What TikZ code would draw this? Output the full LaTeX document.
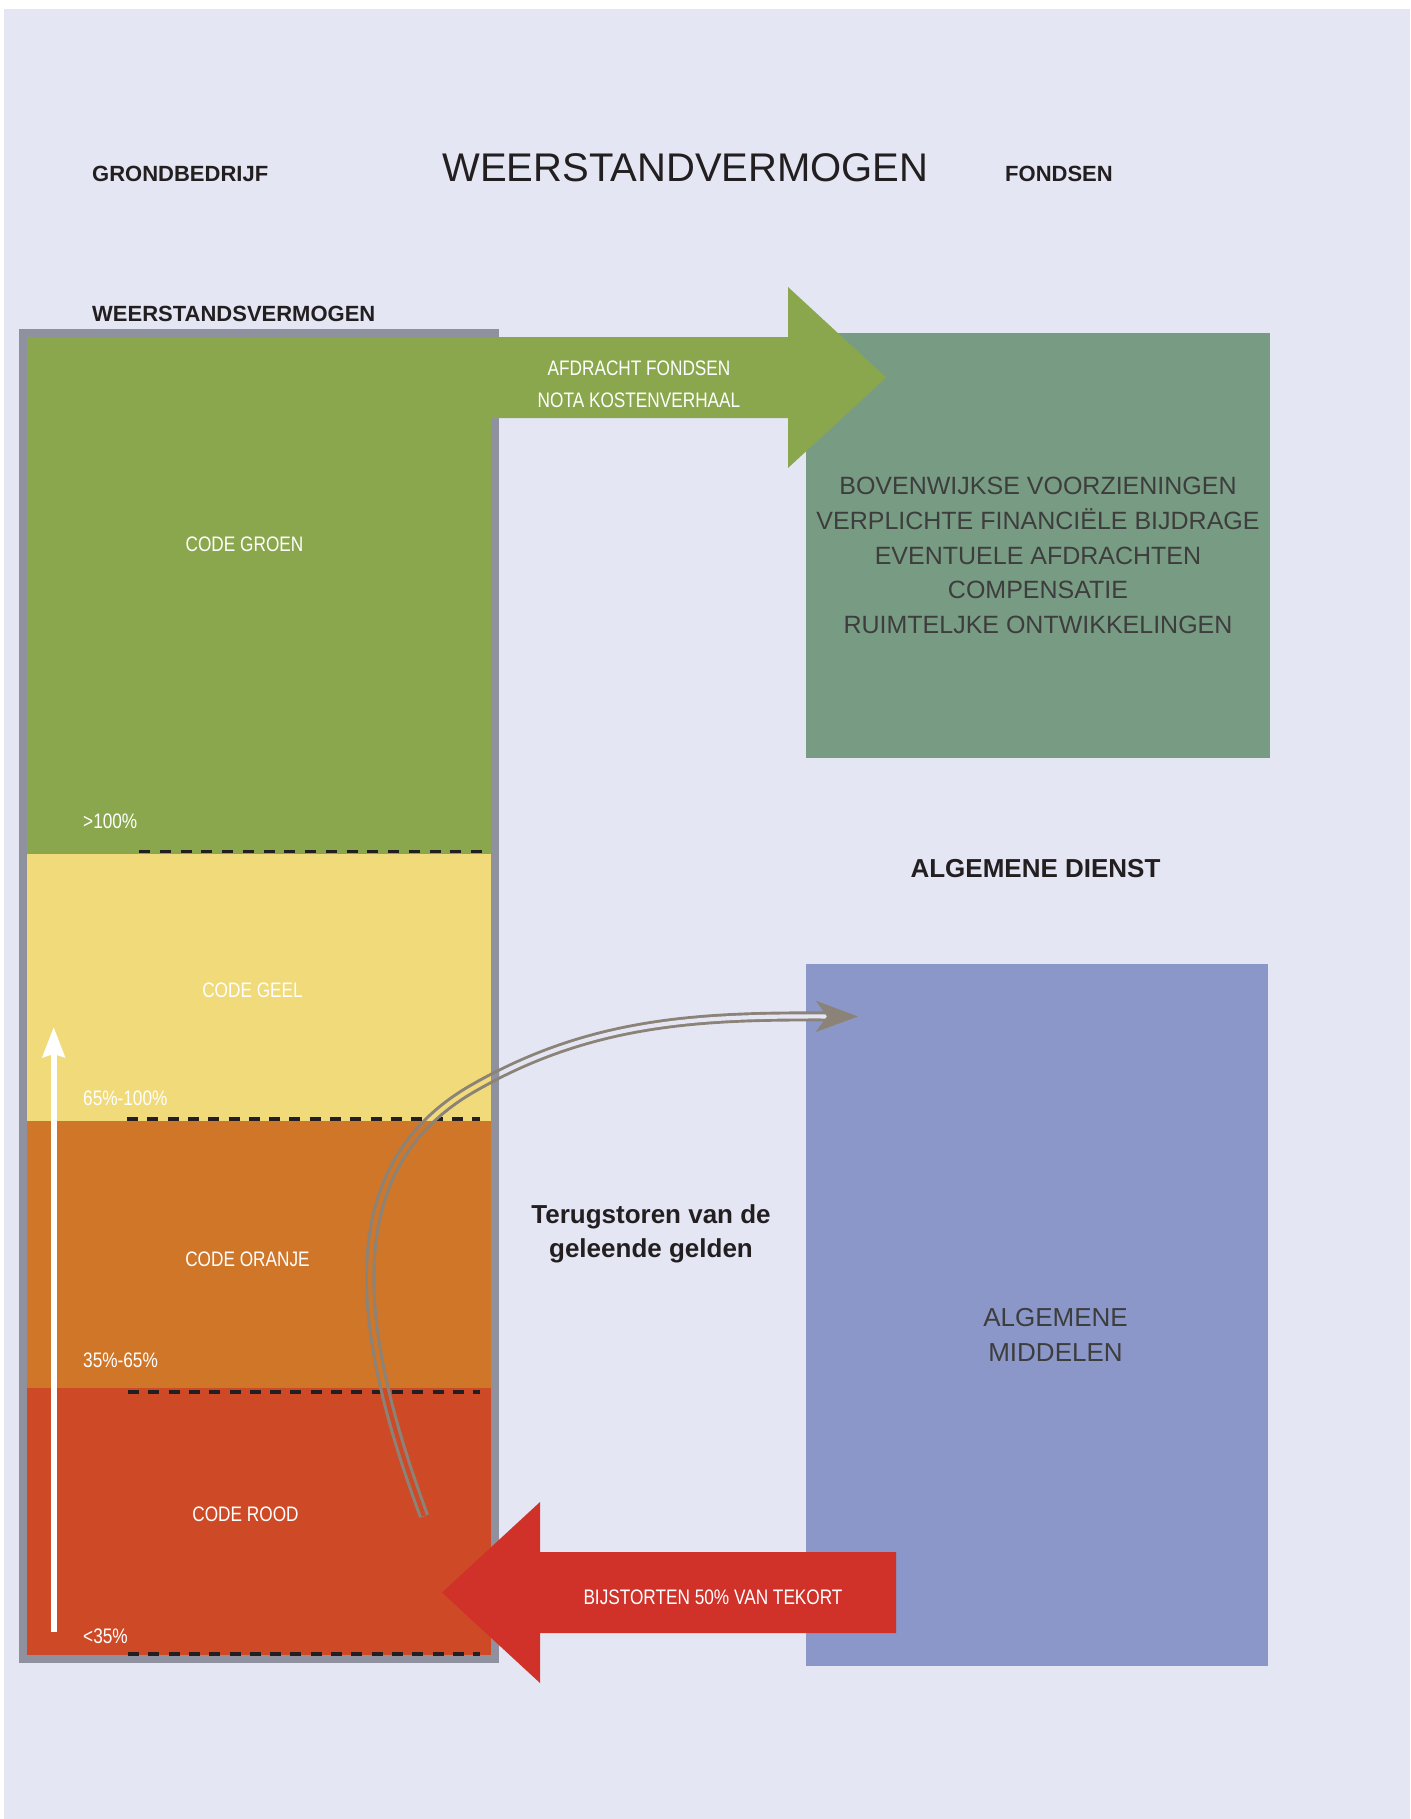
\documentclass[tikz,border=0pt]{standalone}
\usepackage{fontspec}
\setmainfont{Liberation Sans}
\newfontfamily\smalfont[FakeStretch=0.82]{Liberation Sans}
\usetikzlibrary{arrows.meta}
\definecolor{achtergrond}{HTML}{E4E6F4}
\definecolor{kadergrijs}{HTML}{8F919E}
\definecolor{groen}{HTML}{8AA74E}
\definecolor{geel}{HTML}{F0DA7A}
\definecolor{oranje}{HTML}{D07628}
\definecolor{rood}{HTML}{CE4A27}
\definecolor{pijlrood}{HTML}{D0322A}
\definecolor{fondsgroen}{HTML}{789C83}
\definecolor{middelblauw}{HTML}{8B97C8}
\definecolor{terugbruin}{HTML}{8C8378}
\definecolor{tekstzwart}{HTML}{231F20}
\definecolor{tekstgrijs}{HTML}{3D3D3D}
\def\terugpijl[#1]{\draw[terug,#1] (terugA) .. controls (355,1330) and (335,1170) .. (470,1090) .. controls (590,1020) and (700,1016) .. (terugB);}

\begin{document}
\begin{tikzpicture}[x=1pt, y=-1pt,
	kop/.style={text=tekstzwart, font=\bfseries\fontsize{22}{26}\selectfont, inner sep=0pt, anchor=base west},
	codetekst/.style={text=white, font=\smalfont\fontsize{21}{32}\selectfont, inner sep=0pt, align=center},
	pcttekst/.style={codetekst, anchor=base west},
	vaktekst/.style={text=tekstgrijs, font=\fontsize{25}{34.75}\selectfont, inner sep=0pt, align=center},
	grens/.style={draw=tekstzwart, line width=3.5pt, dash pattern=on 11pt off 9.3pt},
	terug/.style={draw=terugbruin, line width=2.9pt, double=achtergrond, double distance=4.2pt, -{Stealth[length=42pt,width=31pt,inset=11pt]}}]
		\useasboundingbox (0,0) rectangle (1410,1819);
		%%%%% ACHTERGROND %%%%%
		\fill[white] (0,0) rectangle (1410,1819);
		\fill[achtergrond] (4,9) rectangle (1410,1819);
		
		%%%%% KOPPEN %%%%%
		\node[kop] (grondbedrijf) at (92,182) {GRONDBEDRIJF};
		\node[kop, anchor=base, font=\fontsize{40}{48}\selectfont] (titel) at (685.5,182) {WEERSTANDVERMOGEN};
		\node[kop] (fondsen) at (1005,182) {FONDSEN};
		\node[kop] (weerstand) at (92,321) {WEERSTANDSVERMOGEN};
		
		%%%%% KOLOM GRONDBEDRIJF %%%%%
		\fill[kadergrijs] (19,329) rectangle (499,1663);
		\fill[groen] (27,337) rectangle (491,854);
		\fill[geel] (27,854) rectangle (491,1121);
		\fill[oranje] (27,1121) rectangle (491,1388);
		\fill[rood] (27,1388) rectangle (491,1655);
		
		\draw[grens, dash pattern=on 11pt off 9.75pt] (139,851.5) -- (482,851.5);
		\draw[grens] (127,1119) -- (480,1119);
		\draw[grens] (128,1392) -- (480,1392);
		\draw[grens] (128,1654) -- (480,1654);
		
		\node[codetekst] (groencode) at (244.5,544.5) {CODE GROEN};
		\node[codetekst] (geelcode) at (252.5,990.5) {CODE GEEL};
		\node[codetekst] (oranjecode) at (247.5,1259.5) {CODE ORANJE};
		\node[codetekst] (roodcode) at (245.5,1514.5) {CODE ROOD};
		
		\node[pcttekst] (pct100) at (83,828) {>100\%};
		\node[pcttekst] (pct65) at (83,1105) {65\%-100\%};
		\node[pcttekst] (pct35) at (83,1367) {35\%-65\%};
		\node[pcttekst] (pct0) at (83,1643) {<35\%};
		
		\coordinate (pijlonder) at (53.7,1632);
		\coordinate (pijlboven) at (53.7,1027);
		\draw[white, line width=6pt, -{Stealth[length=30pt,width=22pt,inset=3pt]}] (pijlonder) -- (pijlboven);
		
		%%%%% FONDSEN %%%%%
		\fill[fondsgroen] (806,333) rectangle (1270,758);
		\node[vaktekst] (fondslijst) at (1038,555.5) {BOVENWIJKSE VOORZIENINGEN\\VERPLICHTE FINANCIËLE BIJDRAGE\\EVENTUELE AFDRACHTEN\\COMPENSATIE\\RUIMTELJKE ONTWIKKELINGEN};
		
		\fill[groen] (480,337) -- (788,337) -- (788,287) -- (886,377.5) -- (788,468) -- (788,418) -- (480,418) -- cycle;
		\node[codetekst] (afdracht) at (639,384) {AFDRACHT FONDSEN\\NOTA KOSTENVERHAAL};
		
		%%%%% ALGEMENE DIENST %%%%%
		\node[kop, anchor=base, font=\bfseries\fontsize{26}{30}\selectfont] (dienst) at (1035.5,877) {ALGEMENE DIENST};
		\fill[middelblauw] (806,964) rectangle (1268,1666);
		\node[vaktekst, font=\fontsize{26}{35}\selectfont] (middelen) at (1055.5,1335) {ALGEMENE\\MIDDELEN};
		
		\node[kop, anchor=center, align=center, font=\bfseries\fontsize{26}{34.5}\selectfont] (terugtekst) at (651,1234) {Terugstoren van de\\geleende gelden};
		
		\coordinate (terugA) at (424,1516);
		\coordinate (terugB) at (858,1016.5);
		\terugpijl[]
		\begin{scope}
			\clip (27,854) rectangle (491,1121);
			\terugpijl[double=geel]
		\end{scope}
		\begin{scope}
			\clip (27,1121) rectangle (491,1388);
			\terugpijl[double=oranje]
		\end{scope}
		\begin{scope}
			\clip (27,1388) rectangle (491,1655);
			\terugpijl[double=rood]
		\end{scope}
		\begin{scope}
			\clip (491,329) rectangle (499,1663);
			\terugpijl[double=kadergrijs]
		\end{scope}
		
		\fill[pijlrood] (442,1592.5) -- (540,1502) -- (540,1552) -- (896,1552) -- (896,1633) -- (540,1633) -- (540,1683) -- cycle;
		\node[codetekst] (bijstorten) at (713,1597) {BIJSTORTEN 50\% VAN TEKORT};
		%%%%% EINDE %%%%%
\end{tikzpicture}
\end{document}
